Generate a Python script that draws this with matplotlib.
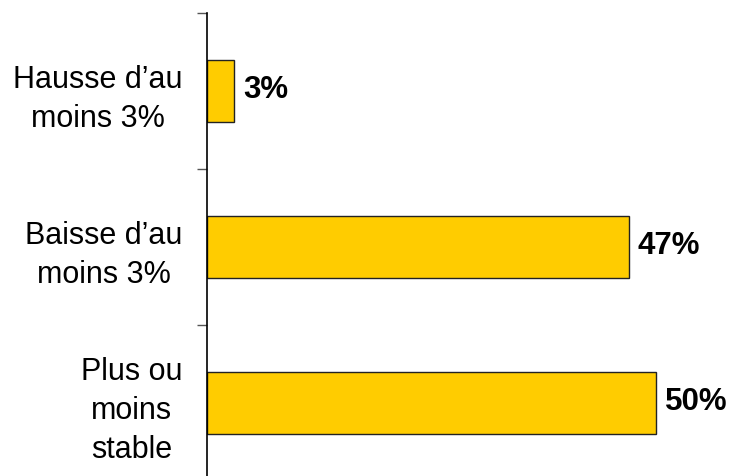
import matplotlib.pyplot as plt
import numpy as np

# Data
categories = ["Hausse d\u2019au\nmoins 3%", "Baisse d\u2019au\nmoins 3%", "Plus ou\nmoins\nstable"]
values = [3, 47, 50]
value_labels = ["3%", "47%", "50%"]

plt.rcParams['font.family'] = ['Liberation Sans', 'DejaVu Sans']

fig = plt.figure(figsize=(7.31, 4.76), dpi=100)
ax = fig.add_axes([207 / 731, -5 / 476, 524 / 731, 468 / 476])

y = np.arange(len(categories))
ax.barh(y, values, height=0.40, color='#FFCC00', edgecolor='#222222', linewidth=1)

for yi, v, lab in zip(y, values, value_labels):
    ax.annotate(lab, (v, yi), xytext=(6.5, 1), textcoords='offset points',
                ha='left', va='center', fontsize=22.5, fontweight='bold')

ax.set_xlim(0, 58.4)
ax.set_ylim(len(categories) - 0.5, -0.5)

# ticks sit between the categories, labels in the middle
ax.set_yticks(np.arange(len(categories) + 1) - 0.5)
ax.set_yticklabels([])
ax.set_yticks(y, minor=True)
ax.set_yticklabels(categories, minor=True, fontsize=22, ha='right',
                   multialignment='center', linespacing=1.4)
ax.tick_params(axis='y', which='major', length=7, width=1, color='#555555', direction='out')
ax.tick_params(axis='y', which='minor', length=0, pad=17.5)

ax.set_xticks([])
for s in ['top', 'right', 'bottom']:
    ax.spines[s].set_visible(False)
ax.spines['left'].set_linewidth(1.2)
ax.spines['left'].set_color('black')

fig.savefig('out.png', dpi=100)
